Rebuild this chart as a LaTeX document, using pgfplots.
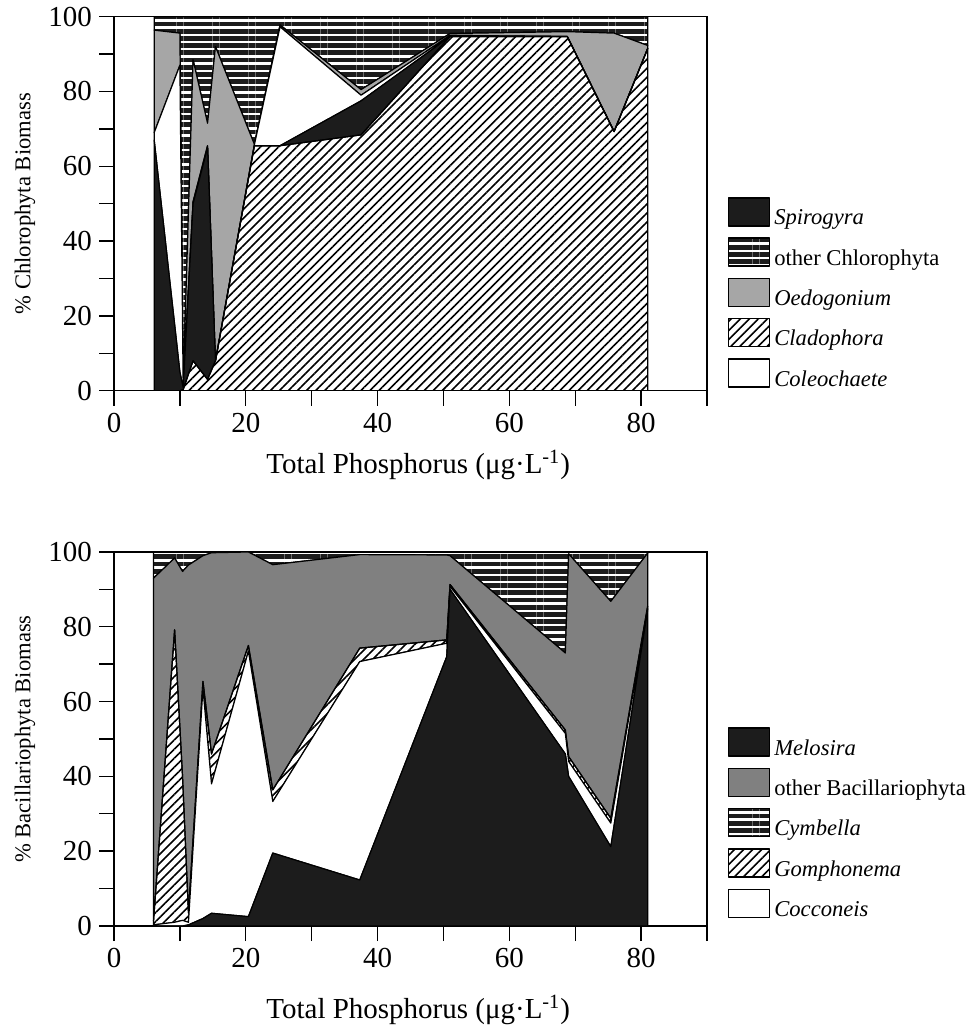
\documentclass[border=0pt]{standalone}
\usepackage{fontspec}
\setmainfont{Liberation Serif}
\usepackage{pgfplots}
\usepackage{pgfplotstable}
\pgfplotsset{compat=1.18}
\usetikzlibrary{patterns.meta}

\definecolor{dk}{HTML}{1C1C1C}
\definecolor{lg}{HTML}{A6A6A6}
\definecolor{mg}{HTML}{808080}

% top panel: x, Cladophora, Spirogyra, Coleochaete, Oedogonium, other Chlorophyta
\pgfplotstableread{
x    clad  spiro coleo oedo  other
6.1  0     67    2     27.4  3.6
10.0 0     5     82    8.6   4.4
10.5 0.3   0.5   0.3   0.4   98.5
12.0 8     42    0.5   38    11.5
14.2 3     62    0.5   6     28.5
15.4 8     0     0     84    8
21.3 65.5  0     0.2   0.2   34.1
25.2 65.5  0     31.8  0.5   2.2
37.5 68.4  9.1   1.5   1.5   19.5
51.0 94.7  0     0.3   0.5   4.5
68.8 94.7  0     0     1.3   4.0
75.9 69.3  0     0     26.3  4.4
81.0 91.5  0     0     0.8   7.7
}\chloro

% bottom panel: x, Melosira, Cocconeis, Gomphonema, other Bacillariophyta, Cymbella
\pgfplotstableread{
x    mel   cocc  gomph other cymb
6.0  0     0.3   1.0   91.7  7.0
9.2  0     1.0   78.2  19.2  1.6
10.4 0     1.5   38.5  54.8  5.2
11.3 0.3   0.7   2.5   93.0  3.5
13.5 2.0   61.5  1.9   33.6  1.0
14.8 3.4   34.6  8.0   53.8  0.2
20.4 2.5   71.0  1.5   25.0  0
24.1 19.5  13.8  3.1   60.2  3.4
37.3 12.3  58.4  3.6   25.0  0.7
50.5 72.0  3.6   0.9   22.7  0.8
51.0 90.0  0.8   0.5   7.7   1.0
68.5 46.0  5.5   0.9   20.6  27.0
69.0 40.0  4.0   1.3   54.2  0.5
75.4 21.2  6.3   1.3   58.0  13.2
81.0 84.6  0.4   0.5   14.2  0.3
}\bacil

\tikzset{
  edge/.style={draw=black, line width=0.6pt, line join=round},
  blk/.style={edge, fill=dk},
  lgr/.style={edge, fill=lg},
  mgr/.style={edge, fill=mg},
  wht/.style={edge, fill=white},
  stripes/.style={edge, pattern={Lines[angle=0,distance=3.6pt,line width=2.4pt]}, pattern color=dk},
  hatch/.style={edge, pattern={Lines[angle=45,distance=3.2pt,line width=0.8pt]}, pattern color=black},
}

\pgfplotsset{
  algae/.style={
    scale only axis, width=296.5pt, height=187pt,
    xmin=0, xmax=90, ymin=0, ymax=100,
    xtick={0,10,...,90}, xticklabels={0,,20,,40,,60,,80,},
    ytick={0,10,...,100}, yticklabels={0,,20,,40,,60,,80,,100},
    xtick pos=bottom, ytick pos=left,
    tick align=outside, major tick length=7.5pt,
    tick style={black, line width=0.7pt},
    axis line style={line width=0.7pt},
    /pgf/number format/assume math mode=true,
    every tick label/.append style={font=\fontsize{14.5}{17}\selectfont},
    xticklabel style={font=\fontsize{14.5}{17}\selectfont},
    yticklabel style={font=\fontsize{14.5}{17}\selectfont},
    xlabel style={font=\fontsize{14.5}{17}\selectfont},
    ylabel style={font=\fontsize{11.3}{14}\selectfont},
    stack plots=y,
    legend style={draw=none, fill=none, font=\fontsize{11.3}{13.5}\selectfont,
      anchor=north west, row sep=2.8pt, inner sep=0pt},
    legend cell align=left,
    legend image code/.code={\draw[##1, line width=0.6pt] (0pt,-3.6pt) rectangle (20.5pt,10.4pt);},
  }
}

\begin{document}
\begin{tikzpicture}
\useasboundingbox (0,0) rectangle (484.5pt,516pt);

\begin{axis}[algae, at={(57pt,320.65pt)}, anchor=south west,
  ylabel={\% Chlorophyta Biomass},
  xlabel={Total Phosphorus (μg·L\textsuperscript{-1})},
  ylabel style={at={(axis description cs:-0.15,0.5)}, anchor=center},
  xlabel style={at={(axis description cs:0.513,-0.199)}, anchor=center},
  legend style={at={(1.035,0.518)}},
]
\addlegendimage{blk}
\addlegendimage{stripes}
\addlegendimage{lgr}
\addlegendimage{hatch}
\addlegendimage{wht}
\addplot[hatch] table[x=x, y=clad] {\chloro} \closedcycle;
\addplot[blk] table[x=x, y=spiro] {\chloro} \closedcycle;
\addplot[wht] table[x=x, y=coleo] {\chloro} \closedcycle;
\addplot[lgr] table[x=x, y=oedo] {\chloro} \closedcycle;
\addplot[stripes] table[x=x, y=other] {\chloro} \closedcycle;
\legend{\textit{Spirogyra}, other Chlorophyta, \textit{Oedogonium}, \textit{Cladophora}, \textit{Coleochaete}}
\end{axis}

\begin{axis}[algae, at={(57pt,53pt)}, anchor=south west,
  ylabel={\% Bacillariophyta Biomass},
  xlabel={Total Phosphorus (μg·L\textsuperscript{-1})},
  ylabel style={at={(axis description cs:-0.15,0.5)}, anchor=center},
  xlabel style={at={(axis description cs:0.513,-0.225)}, anchor=center},
  legend style={at={(1.035,0.532)}},
]
\addlegendimage{blk}
\addlegendimage{mgr}
\addlegendimage{stripes}
\addlegendimage{hatch}
\addlegendimage{wht}
\addplot[blk] table[x=x, y=mel] {\bacil} \closedcycle;
\addplot[wht] table[x=x, y=cocc] {\bacil} \closedcycle;
\addplot[hatch] table[x=x, y=gomph] {\bacil} \closedcycle;
\addplot[mgr] table[x=x, y=other] {\bacil} \closedcycle;
\addplot[stripes] table[x=x, y=cymb] {\bacil} \closedcycle;
\legend{\textit{Melosira}, other Bacillariophyta, \textit{Cymbella}, \textit{Gomphonema}, \textit{Cocconeis}}
\end{axis}
\end{tikzpicture}
\end{document}
